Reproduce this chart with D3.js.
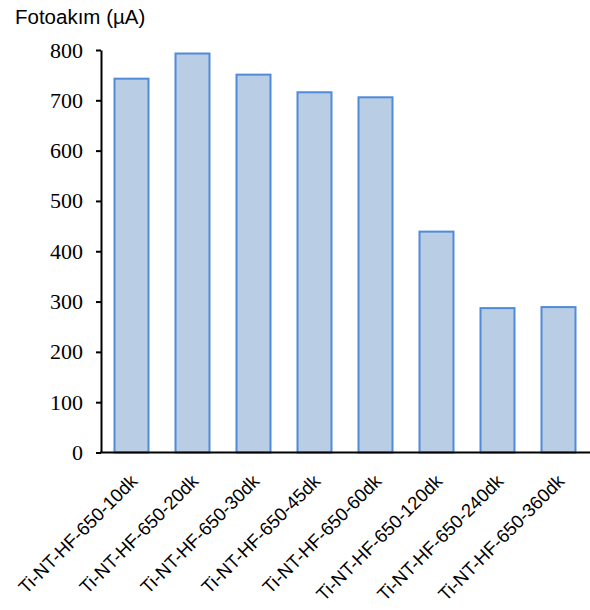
<!DOCTYPE html>
<html>
<head>
<meta charset="utf-8">
<script src="https://cdn.jsdelivr.net/npm/d3@7"></script>
<style>
  html, body { margin: 0; padding: 0; background: #fff; }
  svg { display: block; }
</style>
</head>
<body>
<script>
// Photocurrent per anodisation duration
const categories = [
  "Ti-NT-HF-650-10dk", "Ti-NT-HF-650-20dk", "Ti-NT-HF-650-30dk", "Ti-NT-HF-650-45dk",
  "Ti-NT-HF-650-60dk", "Ti-NT-HF-650-120dk", "Ti-NT-HF-650-240dk", "Ti-NT-HF-650-360dk"
];
const photocurrent = [743, 793, 751, 716, 706, 439, 287, 289];
const yTicks = [0, 100, 200, 300, 400, 500, 600, 700, 800];
const yTitle = "Fotoakım (µA)";

const W = 590, H = 610;
const plotLeft = 101, plotRight = 589, plotTop = 50, plotBottom = 452.5;

const svg = d3.select("body").append("svg")
  .attr("width", W).attr("height", H);

const x = d3.scaleBand().domain(categories).range([plotLeft, plotRight]).paddingInner(0.41).paddingOuter(0.205);
const y = d3.scaleLinear().domain([0, 800]).range([plotBottom, plotTop]);

// bars
svg.append("g").selectAll("rect")
  .data(photocurrent)
  .join("rect")
  .attr("x", (d, i) => x(categories[i]) + 1)
  .attr("y", d => y(d))
  .attr("width", x.bandwidth() - 2)
  .attr("height", d => y(0) - y(d))
  .attr("fill", "#b9cde5")
  .attr("stroke", "#4f8bd9")
  .attr("stroke-width", 2);

// y axis
const yAxis = svg.append("g")
  .attr("transform", `translate(${plotLeft},0)`)
  .call(d3.axisLeft(y).tickValues(yTicks).tickSize(5).tickPadding(13).tickSizeOuter(0));
yAxis.select(".domain").attr("stroke", "#000").attr("stroke-width", 2);
yAxis.selectAll(".tick line").attr("stroke", "#000").attr("stroke-width", 2);
yAxis.selectAll(".tick text")
  .attr("font-family", "'Liberation Serif', 'Times New Roman', serif")
  .attr("font-size", 22)
  .attr("fill", "#000");

// x axis
const xAxis = svg.append("g")
  .attr("transform", `translate(0,${plotBottom})`)
  .call(d3.axisBottom(x).tickSize(0).tickSizeOuter(0));
xAxis.select(".domain").attr("stroke", "#000").attr("stroke-width", 2)
  .attr("d", `M${plotLeft - 1},0H${W}`);
xAxis.selectAll(".tick text")
  .attr("font-family", "'Liberation Sans', Arial, sans-serif")
  .attr("font-size", 18.5)
  .attr("fill", "#000")
  .attr("text-anchor", "end")
  .attr("dy", null)
  .attr("y", null)
  .attr("transform", "translate(7,30) rotate(-45)");

// axis title
svg.append("text")
  .attr("x", 15).attr("y", 24)
  .attr("font-family", "'Liberation Sans', Arial, sans-serif")
  .attr("font-size", 20.5)
  .attr("fill", "#000")
  .text(yTitle);
</script>
</body>
</html>
